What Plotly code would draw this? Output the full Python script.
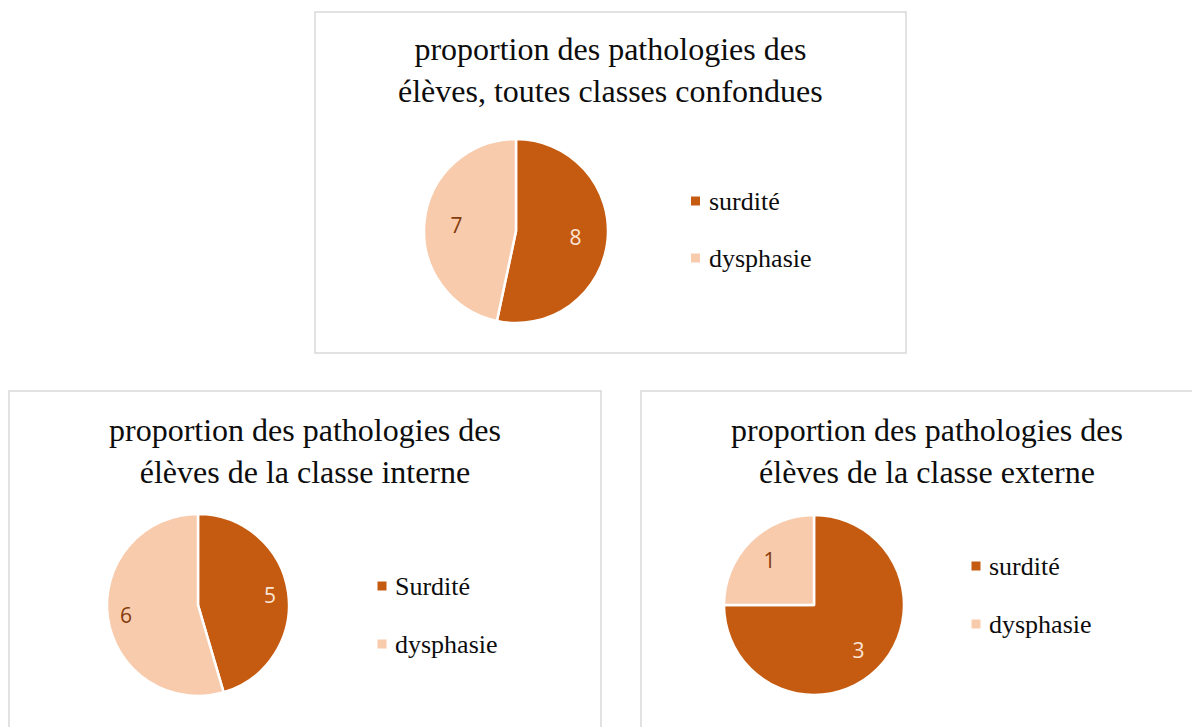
import plotly.graph_objects as go

W, H = 1200, 727
OFF = 8  # page body margin in the browser

# ---- data ----
labels_all = ["surdité", "dysphasie"]
values_all = [8, 7]
labels_int = ["Surdité", "dysphasie"]
values_int = [5, 6]
labels_ext = ["surdité", "dysphasie"]
values_ext = [3, 1]

titles = [
    "proportion des pathologies des<br>élèves, toutes classes confondues",
    "proportion des pathologies des<br>élèves de la classe interne",
    "proportion des pathologies des<br>élèves de la classe externe",
]

slice_colors = ["#C55A11", "#F8CBAD"]
label_colors = ["#FBE5D6", "#843C0C"]
border_color = "#D9D9D9"


def px(x):
    return (x - OFF) / W


def py(y):
    return 1 - (y - OFF) / H


# panel layout (pixels): box, pie centre/radius, label ring hole, title centre, legend
panels = [
    dict(box=(315, 12, 906, 353), c=(516, 231), r=92, hole=0.3, t=(611, 70), leg=(695.5, 201, 57),
         labels=labels_all, values=values_all, title=titles[0]),
    dict(box=(9, 391, 601, 745), c=(198, 605), r=91, hole=0.6, t=(305, 451), leg=(382, 586, 58),
         labels=labels_int, values=values_int, title=titles[1]),
    dict(box=(641, 391, 1240, 745), c=(814, 605), r=90, hole=0.4, t=(927, 451), leg=(976, 566, 58),
         labels=labels_ext, values=values_ext, title=titles[2]),
]

fig = go.Figure()
shapes = []
annotations = []

for p in panels:
    cx, cy = p["c"]
    r = p["r"]
    dom = dict(x=[px(cx - r), px(cx + r)], y=[py(cy + r), py(cy - r)])
    # the pie itself
    fig.add_trace(go.Pie(
        labels=p["labels"], values=p["values"],
        sort=False, direction="clockwise", rotation=0,
        marker=dict(colors=slice_colors, line=dict(color="white", width=2.5)),
        textinfo="none",
        domain=dom, showlegend=False, hoverinfo="label+value+percent",
    ))
    # transparent ring carrying the data labels further out, like the original
    fig.add_trace(go.Pie(
        labels=p["labels"], values=p["values"],
        sort=False, direction="clockwise", rotation=0, hole=p["hole"],
        marker=dict(colors=["rgba(0,0,0,0)"] * 2, line=dict(width=0)),
        textinfo="value", textposition="inside", insidetextorientation="horizontal",
        textfont=dict(family="Open Sans, Liberation Sans, sans-serif", size=21, color=label_colors),
        domain=dom, showlegend=False, hoverinfo="skip",
    ))
    x0, y0, x1, y1 = p["box"]
    shapes.append(dict(type="rect", xref="paper", yref="paper",
                       x0=px(x0), x1=px(x1), y0=py(y1), y1=py(y0),
                       line=dict(color=border_color, width=1.5), fillcolor="rgba(0,0,0,0)"))
    tx, ty = p["t"]
    annotations.append(dict(text=p["title"], xref="paper", yref="paper",
                            x=px(tx), y=py(ty), xanchor="center", yanchor="middle",
                            showarrow=False, align="center",
                            font=dict(family="Liberation Serif, Times New Roman, serif", size=32, color="#0D0D0D")))
    lx, ly, gap = p["leg"]
    for i, lab in enumerate(p["labels"]):
        yy = ly + i * gap
        shapes.append(dict(type="rect", xref="paper", yref="paper",
                           x0=px(lx - 4.5), x1=px(lx + 4.5), y0=py(yy + 4.5), y1=py(yy - 4.5),
                           line=dict(width=0), fillcolor=slice_colors[i]))
        annotations.append(dict(text=lab, xref="paper", yref="paper",
                                x=px(lx + 11), y=py(yy), xanchor="left", yanchor="middle",
                                showarrow=False,
                                font=dict(family="Liberation Serif, Times New Roman, serif", size=26, color="#0D0D0D")))

fig.update_layout(
    width=W, height=H,
    margin=dict(l=0, r=0, t=0, b=0),
    paper_bgcolor="white", plot_bgcolor="white",
    shapes=shapes, annotations=annotations,
    showlegend=False,
)

fig.write_html("out.html")
